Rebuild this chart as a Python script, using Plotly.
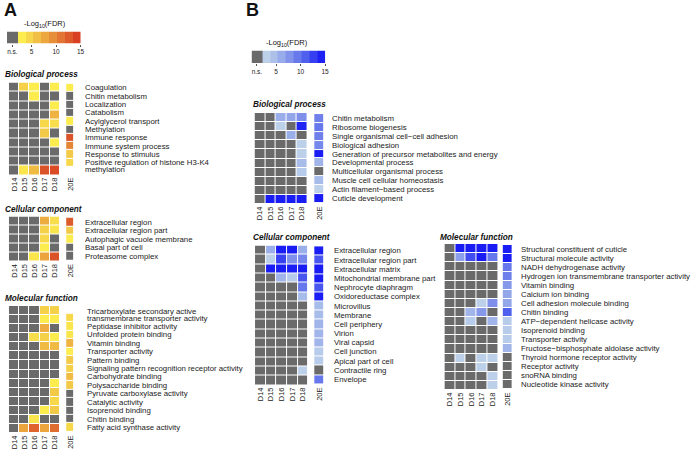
import plotly.graph_objects as go

W, H = 692, 470

GRAY = '#6a6a6a'
FONT = 'Arial, Liberation Sans, sans-serif'
TXT = '#222222'

# gray below 2.2 = n.s., gradient above
SCALE_A = [[0, GRAY], [0.1466, GRAY], [0.1467, '#fff650'], [0.33, '#f5d24a'],
           [0.53, '#eca53d'], [0.73, '#e27633'], [1, '#d5311f']]
SCALE_B = [[0, GRAY], [0.1466, GRAY], [0.1467, '#c4d8ea'], [0.33, '#a9bdea'],
           [0.53, '#7f91ea'], [0.73, '#5060ee'], [1, '#1212f5']]

DAYS = ['D14', 'D15', 'D16', 'D17', 'D18']
HORM = ['20E']
LEG_TICKS = [1.1, 5, 10, 15]
LEG_TEXT = ['n.s.', '5', '10', '15']

# ---- Panel A (yellow/red) ----
a_bp_terms = ['Coagulation', 'Chitin metabolism', 'Localization', 'Catabolism',
              'Acylglycerol transport', 'Methylation', 'Immune response',
              'Immune system process', 'Response to stimulus',
              'Positive regulation of histone H3-K4<br>methylation']
a_bp_days = [[0, 5, 3, 0, 3], [0, 0, 3, 0, 0], [0, 0, 0, 0, 3], [0, 0, 0, 0, 7],
             [0, 0, 0, 4.5, 4], [0, 0, 0, 5.5, 0], [0, 0, 0, 0, 3], [0, 0, 0, 0, 0],
             [0, 0, 0, 0, 0], [0, 3.5, 6.5, 13, 13.5]]
a_bp_20e = [3, 0, 0, 0, 3, 0, 13, 10, 5.5, 4.5]

a_cc_terms = ['Extracellular region', 'Extracellular region part',
              'Autophagic vacuole membrane', 'Basal part of cell', 'Proteasome complex']
a_cc_days = [[0, 0, 0, 7.5, 4], [0, 0, 0, 5, 3.5], [0, 0, 0, 4.5, 0],
             [0, 0, 0, 3, 0], [0, 0, 3.5, 8, 13]]
a_cc_20e = [12.5, 5.5, 3, 0, 0]

a_mf_terms = ['Tricarboxylate secondary active<br>transmembrane transporter activity',
              'Peptidase inhibitor activity', 'Unfolded protein binding', 'Vitamin binding',
              'Transporter activity', 'Pattern binding',
              'Signaling pattern recognition receptor activity', 'Carbohydrate binding',
              'Polysaccharide binding', 'Pyruvate carboxylase activity', 'Catalytic activity',
              'Isoprenoid binding', 'Chitin binding', 'Fatty acid synthase activity']
a_mf_days = [[0, 0, 0, 5, 5], [0, 0, 0, 3, 3], [0, 0, 0, 7.5, 0], [0, 0, 4, 5, 3],
             [0, 0, 0, 6.5, 6.5], [0, 0, 0, 0, 0], [0, 0, 0, 0, 0], [0, 0, 0, 0, 0],
             [0, 0, 0, 0, 3], [0, 0, 0, 0, 5.5], [0, 0, 0, 0, 4.5], [0, 0, 0, 3, 5.5],
             [0, 0, 3.5, 0, 0], [0, 8, 12, 8, 11.5]]
a_mf_20e = [4.5, 3.5, 3.5, 7, 2.8, 5.5, 5, 6.5, 5.5, 0, 0, 0, 0, 4.5]

# ---- Panel B (blue) ----
b_bp_terms = ['Chitin metabolism', 'Ribosome biogenesis',
              'Single organismal cell\u2212cell adhesion', 'Biological adhesion',
              'Generation of precursor metabolites and energy', 'Developmental process',
              'Multicellular organismal process', 'Muscle cell cellular homeostasis',
              'Actin filament\u2212based process', 'Cuticle development']
b_bp_days = [[0, 0, 6, 6.5, 8], [0, 0, 3, 0, 14], [0, 0, 0, 6, 0], [0, 0, 0, 0, 3],
             [0, 0, 0, 0, 3], [0, 0, 0, 0, 5], [0, 0, 0, 0, 3.5], [0, 0, 0, 0, 0],
             [0, 0, 0, 0, 0], [0, 14.5, 14.5, 14.5, 14.5]]
b_bp_20e = [9, 9.5, 9, 8.5, 14.5, 5.5, 0, 5, 3, 14.5]

b_cc_terms = ['Extracellular region', 'Extracellular region part', 'Extracellular matrix',
              'Mitochondrial membrane part', 'Nephrocyte diaphragm', 'Oxidoreductase complex',
              'Microvillus', 'Membrane', 'Cell periphery', 'Virion', 'Viral capsid',
              'Cell junction', 'Apical part of cell', 'Contractile ring', 'Envelope']
b_cc_days = [[0, 6, 14.5, 14.5, 6], [0, 3, 12.5, 8, 8.5], [0, 14.5, 14.5, 14.5, 14.5],
             [0, 0, 5.5, 3.5, 11.5], [0, 0, 0, 0, 9.5], [0, 0, 0, 0, 5],
             [0, 0, 0, 0, 0], [0, 0, 0, 0, 0], [0, 0, 0, 0, 0], [0, 0, 0, 0, 0],
             [0, 0, 0, 0, 0], [0, 0, 0, 0, 0], [0, 0, 0, 0, 0], [0, 0, 0, 0, 3],
             [0, 0, 0, 0, 0]]
b_cc_20e = [14.5, 11.5, 14.5, 14.5, 11.5, 14.5, 5, 5, 5.5, 5.5, 5.5, 3.5, 3.5, 0, 9.5]

b_mf_terms = ['Structural constituent of cuticle', 'Structural molecule activity',
              'NADH dehydrogenase activity', 'Hydrogen ion transmembrane transporter activity',
              'Vitamin binding', 'Calcium ion binding', 'Cell adhesion molecule binding',
              'Chitin binding', 'ATP\u2212dependent helicase activity', 'Isoprenoid binding',
              'Transporter activity', 'Fructose\u2212bisphosphate aldolase activity',
              'Thyroid hormone receptor activity', 'Receptor activity', 'snoRNA binding',
              'Nucleotide kinase activity']
b_mf_days = [[0, 14.5, 14.5, 14.5, 14.5], [0, 7, 12, 14.5, 9.5], [0, 0, 0, 0, 0],
             [0, 0, 0, 0, 0], [0, 0, 0, 0, 0], [0, 0, 0, 0, 0], [0, 0, 0, 3, 8],
             [0, 0, 5.5, 7.5, 0], [0, 0, 3.5, 0, 5.5], [0, 0, 0, 0, 0], [0, 0, 0, 0, 0],
             [0, 0, 0, 0, 0], [0, 3, 0, 3, 3], [0, 0, 0, 3, 0], [0, 0, 0, 0, 3],
             [0, 0, 0, 0, 3]]
b_mf_20e = [14.5, 14.5, 9.5, 9, 7.5, 6.5, 6.5, 11, 3.5, 3.5, 3.5, 5.5, 0, 0, 0, 0]


fig = go.Figure()
layout = {}
annotations = []
axis_n = [0]


def px_x(x):
    return x / W


def px_y(y):
    return 1 - y / H


def new_axes(x0, x1, y0, y1):
    axis_n[0] += 1
    n = axis_n[0]
    s = '' if n == 1 else str(n)
    layout['xaxis' + s] = dict(domain=[px_x(x0), px_x(x1)], anchor='y' + s,
                               showgrid=False, zeroline=False, showline=False, ticks='',
                               tickangle=-90, tickfont=dict(size=7.5, color=TXT, family=FONT),
                               fixedrange=True)
    layout['yaxis' + s] = dict(domain=[px_y(y1), px_y(y0)], anchor='x' + s,
                               showgrid=False, zeroline=False, showline=False,
                               showticklabels=False, autorange='reversed', fixedrange=True)
    return s


def add_text(text, x, y, size, bold=False, italic=False, xanchor='left'):
    if italic:
        text = '<i>' + text + '</i>'
    if bold:
        text = '<b>' + text + '</b>'
    annotations.append(dict(text=text, x=px_x(x), y=px_y(y), xref='paper', yref='paper',
                            xanchor=xanchor, yanchor='middle', showarrow=False,
                            font=dict(size=size, color='#111111', family=FONT)))


def add_block(header, hx, hy, terms, days, e20, scale, dx0, dx1, ex0, ex1, y0, y1, lx):
    add_text(header, hx, hy, 8.2, bold=True, italic=True)
    s = new_axes(dx0, dx1, y0, y1)
    fig.add_trace(go.Heatmap(z=days, x=DAYS, y=terms, colorscale=scale, zmin=0, zmax=15,
                             showscale=False, xgap=1, ygap=1, xaxis='x' + s, yaxis='y' + s))
    s = new_axes(ex0, ex1, y0, y1)
    fig.add_trace(go.Heatmap(z=[[v] for v in e20], x=HORM, y=terms, colorscale=scale,
                             zmin=0, zmax=15, showscale=False, xgap=1, ygap=1,
                             xaxis='x' + s, yaxis='y' + s))
    for i, t in enumerate(terms):
        lines = t.split('<br>')
        if len(lines) == 1:
            offs = [0]
        elif t.startswith('Positive'):
            offs = [0, 0.82]
        else:
            offs = [-0.78, 0]
        for line, off in zip(lines, offs):
            annotations.append(dict(text=line, x=px_x(lx), y=i + off, xref='paper',
                                    yref='y' + s, xanchor='left', yanchor='middle',
                                    showarrow=False, borderpad=0,
                                    font=dict(size=7.8, color=TXT, family=FONT)))


def add_legend(scale, x0, x1, y0, y1, tx, ty):
    edges = [0] + [2.2 + i * 1.6 for i in range(9)]
    mids = [0] + [2.2 + i * 1.6 + 0.8 for i in range(8)]
    s = new_axes(x0, x1, y0, y1)
    fig.add_trace(go.Heatmap(z=[mids], x=edges, y=[0],
                             colorscale=scale, zmin=0, zmax=15, showscale=False,
                             xaxis='x' + s, yaxis='y' + s))
    layout['xaxis' + s].update(range=[0, 15], tickvals=LEG_TICKS, ticktext=LEG_TEXT,
                               tickangle=0, ticks='outside', ticklen=2, tickwidth=0.6,
                               tickcolor='#555555',
                               tickfont=dict(size=6.5, color=TXT, family=FONT))
    layout['yaxis' + s].update(range=[-0.5, 0.5], autorange=False)
    add_text('-Log<sub>10</sub>(FDR)', tx, ty, 7.5, xanchor='center')


# panel letters
add_text('A', 2, 10, 18, bold=True)
add_text('B', 245, 10, 18, bold=True)

# legends
add_legend(SCALE_A, 7, 81, 31.5, 43.5, 45, 24)
add_legend(SCALE_B, 253, 327, 50.5, 63, 289, 43)

# panel A blocks
add_block('Biological process', 3, 74, a_bp_terms, a_bp_days, a_bp_20e, SCALE_A,
          9, 60.5, 66.5, 75, 82.5, 175, 84)
add_block('Cellular component', 3, 209, a_cc_terms, a_cc_days, a_cc_20e, SCALE_A,
          9, 60.5, 66.5, 75, 216.5, 261.5, 84)
add_block('Molecular function', 3, 298, a_mf_terms, a_mf_days, a_mf_20e, SCALE_A,
          9, 60.5, 66.5, 75, 306, 433, 86)

# panel B blocks
add_block('Biological process', 252, 105, b_bp_terms, b_bp_days, b_bp_20e, SCALE_B,
          256, 309, 316, 326, 113, 204, 333)
add_block('Cellular component', 252, 238, b_cc_terms, b_cc_days, b_cc_20e, SCALE_B,
          256.5, 310, 316, 326.5, 245.5, 385, 335)
add_block('Molecular function', 441, 238, b_mf_terms, b_mf_days, b_mf_20e, SCALE_B,
          447, 501, 505.5, 516, 244, 390, 523)

layout.update(width=W, height=H, margin=dict(l=0, r=0, t=0, b=0),
              paper_bgcolor='white', plot_bgcolor='white', showlegend=False,
              font=dict(family=FONT, color=TXT), annotations=annotations)
fig.update_layout(layout)

# page body margin would shift the figure by 8px
fig.write_html('out.html', config={'displayModeBar': False},
               post_script="document.body.style.margin='0';")
